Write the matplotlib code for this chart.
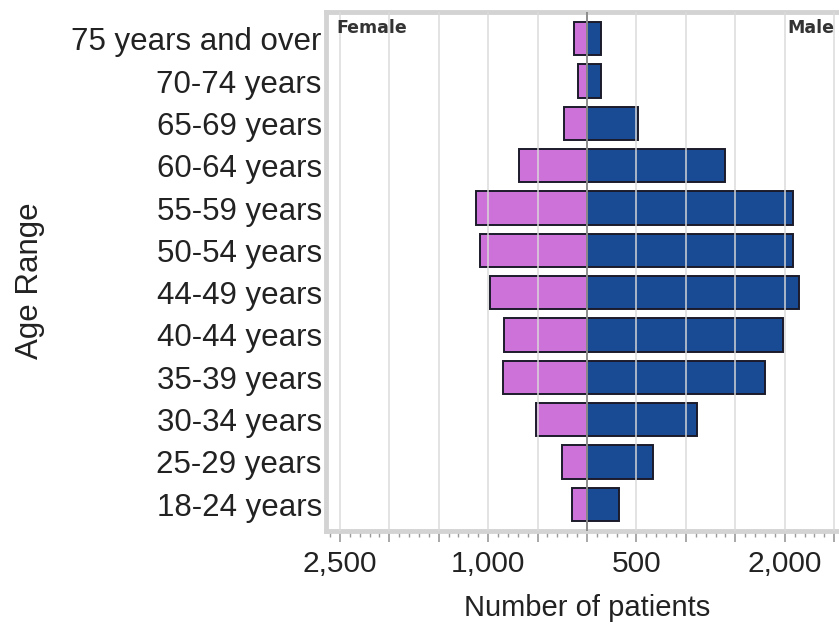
import numpy as np
import matplotlib
matplotlib.use("Agg")
import matplotlib.pyplot as plt
from matplotlib.ticker import MultipleLocator

# age groups, bottom to top
ages = ["18-24 years", "25-29 years", "30-34 years", "35-39 years",
        "40-44 years", "44-49 years", "50-54 years", "55-59 years",
        "60-64 years", "65-69 years", "70-74 years", "75 years and over"]
# patient counts
female = [153, 254, 517, 845, 838, 980, 1081, 1124, 683, 231, 86, 130]
male = [326, 670, 1115, 1803, 1983, 2148, 2084, 2087, 1399, 518, 141, 141]

# x tick labels as printed on the original chart
xtick_pos = [-2500, -1000, 500, 2000]
xtick_txt = ["2,500", "1,000", "500", "2,000"]

plt.rcParams['font.family'] = ['Liberation Sans', 'DejaVu Sans']

fig = plt.figure(figsize=(8.39, 6.25), dpi=100)
W, H = 839.0, 625.0
ax = fig.add_axes([326/W, (H-531)/H, (848-326)/W, (531-12)/H])

y = np.arange(len(ages))
ax.barh(y, -np.array(female), height=0.78, color="#cc72d9",
        edgecolor="#1b1b2b", linewidth=1.4, zorder=2)
ax.barh(y, male, height=0.78, color="#194a94",
        edgecolor="#1b1b2b", linewidth=1.4, zorder=2)

# grid lines sit on top of the bars
major = np.arange(-2500, 2501, 500)
for v in major:
    if v == 0:
        continue
    ax.axvline(v, color="#dadada", lw=1.4, alpha=0.75, zorder=3)
ax.axvline(0, color="#8c8c8c", lw=1.4, zorder=4)

ax.set_xlim(-2640, 2640)
ax.set_ylim(-0.63, 11.63)

ax.set_yticks(y)
ax.set_yticklabels(ages, fontsize=22.5, color="#222222")
ax.tick_params(axis="y", length=0, pad=3)

ax.set_xticks(major)
ax.set_xticklabels([xtick_txt[xtick_pos.index(v)] if v in xtick_pos else ""
                    for v in major], fontsize=21.5, color="#222222")
ax.xaxis.set_minor_locator(MultipleLocator(100))
ax.tick_params(axis="x", which="major", length=8, width=1.2,
               color="#9a9a9a", pad=6)
ax.tick_params(axis="x", which="minor", length=4, width=1.0,
               color="#9a9a9a")

for side in ["left", "top", "bottom"]:
    ax.spines[side].set_color("#d3d3d3")
    ax.spines[side].set_linewidth(3.5)
ax.spines["right"].set_visible(False)

ax.set_xlabel("Number of patients", fontsize=21, color="#222222", labelpad=11)
fig.text(30/W, 1-281/H, "Age Range", rotation=90, fontsize=22.5,
         color="#222222", ha="center", va="center")

ax.text(-2535, 11.25, "Female", fontsize=12.5, fontweight="bold",
        family="DejaVu Sans", color="#333333", ha="left", va="center")
ax.text(2505, 11.25, "Male", fontsize=12.5, fontweight="bold",
        family="DejaVu Sans", color="#333333", ha="right", va="center")

fig.savefig("out.png", dpi=100)
